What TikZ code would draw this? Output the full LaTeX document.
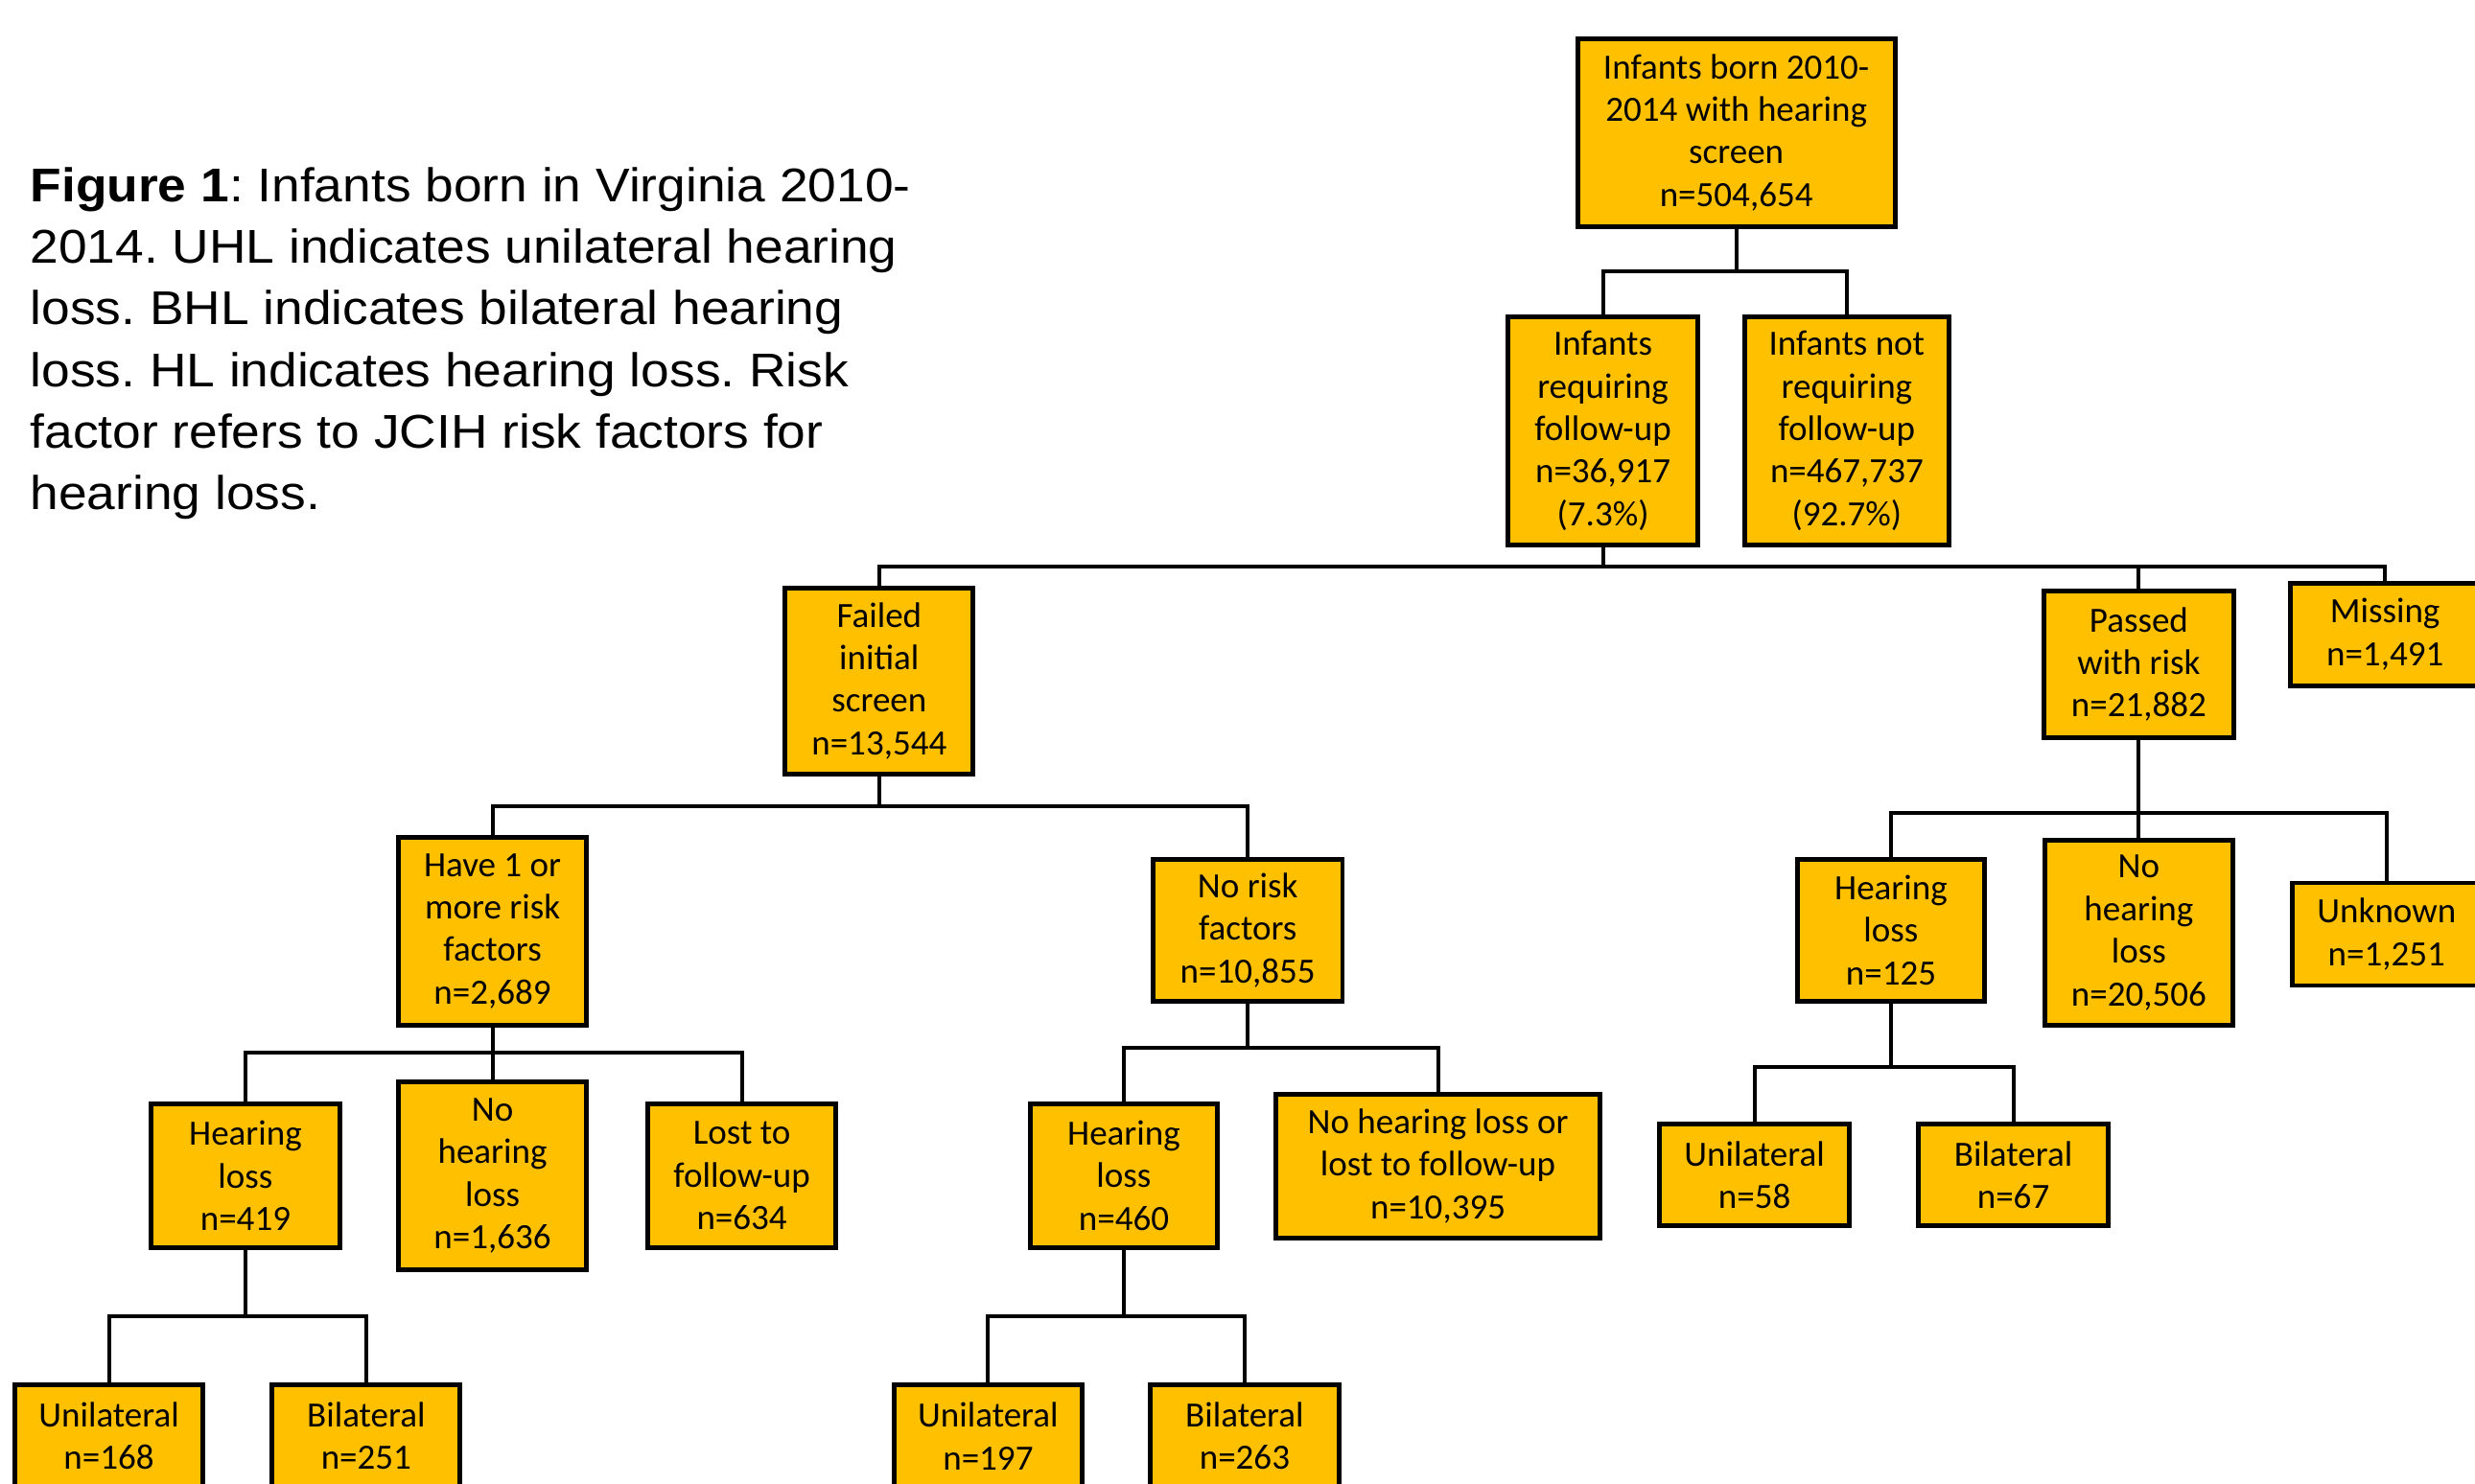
\documentclass[tikz,border=0pt]{standalone}
\usepackage{fontspec}
\setmainfont{Carlito}
\newfontfamily\captionfont[FakeStretch=1.08]{Liberation Sans}
\definecolor{boxgold}{HTML}{FFC000}
\frenchspacing

\tikzstyle{box} = [draw, fill=boxgold, line width=3pt, align=center, inner sep=0pt, font=\fontsize{22.5}{27}\selectfont]
\tikzstyle{link} = [line width=2.5pt]
\tikzstyle{caption} = [align=left, inner sep=0pt, font=\captionfont\fontsize{30}{39}\selectfont]

\begin{document}
\begin{tikzpicture}[x=1pt, y=-1pt]
\useasboundingbox (0,0) rectangle (1568,940);
\clip (0,0) rectangle (1568,940);
%caption
\node[caption, anchor=north west] (cap) at (19,106) {\textbf{Figure 1}: Infants born in Virginia 2010-\\2014. UHL indicates unilateral hearing\\loss. BHL indicates bilateral hearing\\loss. HL indicates hearing loss. Risk\\factor refers to JCIH risk factors for\\hearing loss.};
%root
\node[box, minimum width=201, minimum height=119] (root) at (1100,84) {Infants born 2010-\\2014 with hearing\\screen\\n=504,654};
%level1
\node[box, minimum width=120, minimum height=145] (req) at (1015.5,273) {Infants\\requiring\\follow-up\\n=36,917\\(7.3\%)};
\node[box, minimum width=129, minimum height=145] (notreq) at (1170,273) {Infants not\\requiring\\follow-up\\n=467,737\\(92.7\%)};
%level2
\node[box, minimum width=119, minimum height=118] (failed) at (557,431.5) {Failed\\initial\\screen\\n=13,544};
\node[box, minimum width=120, minimum height=93] (passed) at (1355,421) {Passed\\with risk\\n=21,882};
\node[box, minimum width=120, minimum height=65] (missing) at (1511,402) {Missing\\n=1,491};
%level3 - failed
\node[box, minimum width=119, minimum height=119] (riskyes) at (312,590) {Have 1 or\\more risk\\factors\\n=2,689};
\node[box, minimum width=120, minimum height=90] (riskno) at (790.5,589.5) {No risk\\factors\\n=10,855};
%level3 - passed
\node[box, minimum width=119, minimum height=90] (hlpass) at (1198,589.5) {Hearing\\loss\\n=125};
\node[box, minimum width=119, minimum height=117] (nohlpass) at (1355,591) {No\\hearing\\loss\\n=20,506};
\node[box, minimum width=119, minimum height=65] (unknown) at (1512,592) {Unknown\\n=1,251};
%level4 - risk factors
\node[box, minimum width=120, minimum height=91] (hlrisk) at (155.5,745) {Hearing\\loss\\n=419};
\node[box, minimum width=119, minimum height=119] (nohlrisk) at (312,745) {No\\hearing\\loss\\n=1,636};
\node[box, minimum width=119, minimum height=91] (lostrisk) at (470,745) {Lost to\\follow-up\\n=634};
%level4 - no risk factors
\node[box, minimum width=119, minimum height=91] (hlnorisk) at (712,745) {Hearing\\loss\\n=460};
\node[box, minimum width=205, minimum height=91] (nohlnorisk) at (911,739) {No hearing loss or\\lost to follow-up\\n=10,395};
%level4 - passed hearing loss
\node[box, minimum width=120, minimum height=64] (unipass) at (1111.5,744.5) {Unilateral\\n=58};
\node[box, minimum width=120, minimum height=64] (bipass) at (1275.5,744.5) {Bilateral\\n=67};
%level5
\node[box, minimum width=119, minimum height=65] (unirisk) at (69,910) {Unilateral\\n=168};
\node[box, minimum width=119, minimum height=65] (birisk) at (232,910) {Bilateral\\n=251};
\node[box, minimum width=119, minimum height=65] (uninorisk) at (626,910) {Unilateral\\n=197};
\node[box, minimum width=120, minimum height=65] (binorisk) at (788.5,910) {Bilateral\\n=263};

%connectors
\draw[link] (root.south) -- ++(0,27) -| (req.north);
\draw[link] (root.south) -- ++(0,27) -| (notreq.north);
\draw[link] (req.south) -- ++(0,12) -| (failed.north);
\draw[link] (req.south) -- ++(0,12) -| (passed.north);
\draw[link] (req.south) -- ++(0,12) -| (missing.north);
\draw[link] (failed.south) -- ++(0,19) -| (riskyes.north);
\draw[link] (failed.south) -- ++(0,19) -| (riskno.north);
\draw[link] (passed.south) -- ++(0,46) -| (hlpass.north);
\draw[link] (passed.south) -- ++(0,46) -| (nohlpass.north);
\draw[link] (passed.south) -- ++(0,46) -| (unknown.north);
\draw[link] (riskyes.south) -- ++(0,16) -| (hlrisk.north);
\draw[link] (riskyes.south) -- ++(0,16) -| (nohlrisk.north);
\draw[link] (riskyes.south) -- ++(0,16) -| (lostrisk.north);
\draw[link] (riskno.south) -- ++(0,28) -| (hlnorisk.north);
\draw[link] (riskno.south) -- ++(0,28) -| (nohlnorisk.north);
\draw[link] (hlpass.south) -- ++(0,40) -| (unipass.north);
\draw[link] (hlpass.south) -- ++(0,40) -| (bipass.north);
\draw[link] (hlrisk.south) -- ++(0,42) -| (unirisk.north);
\draw[link] (hlrisk.south) -- ++(0,42) -| (birisk.north);
\draw[link] (hlnorisk.south) -- ++(0,42) -| (uninorisk.north);
\draw[link] (hlnorisk.south) -- ++(0,42) -| (binorisk.north);
\end{tikzpicture}
\end{document}
